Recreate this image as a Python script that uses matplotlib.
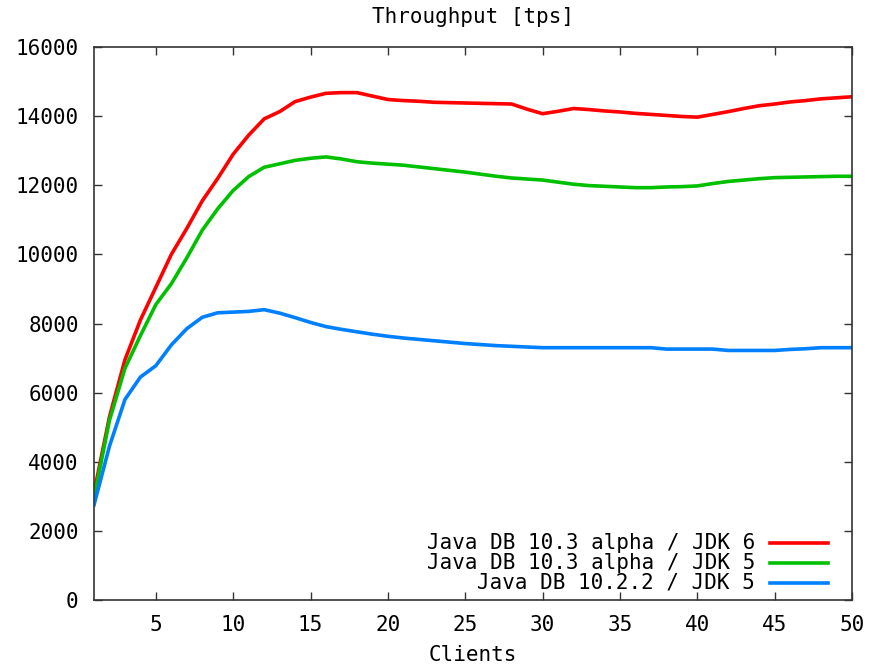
import matplotlib
matplotlib.use("Agg")
import matplotlib.pyplot as plt

clients = list(range(1, 51))

jdb103_jdk6 = [3100, 5300, 6950, 8100, 9050, 10000, 10750, 11550, 12200, 12900,
               13450, 13920, 14130, 14420, 14550, 14660, 14680, 14680, 14580, 14480,
               14450, 14430, 14400, 14390, 14380, 14370, 14360, 14350, 14200, 14070,
               14140, 14220, 14190, 14150, 14120, 14080, 14050, 14020, 13990, 13970,
               14050, 14130, 14220, 14300, 14350, 14410, 14450, 14500, 14530, 14560]

jdb103_jdk5 = [2950, 5200, 6700, 7650, 8550, 9150, 9900, 10700, 11320, 11850,
               12250, 12520, 12620, 12720, 12780, 12820, 12760, 12680, 12640, 12610,
               12580, 12530, 12480, 12430, 12380, 12320, 12260, 12210, 12180, 12150,
               12090, 12030, 11990, 11970, 11950, 11930, 11930, 11950, 11960, 11980,
               12050, 12110, 12150, 12190, 12220, 12230, 12240, 12250, 12260, 12260]

jdb1022_jdk5 = [2750, 4450, 5800, 6450, 6780, 7380, 7850, 8180, 8310, 8330,
                8350, 8400, 8300, 8170, 8030, 7910, 7830, 7760, 7690, 7630,
                7580, 7540, 7500, 7460, 7420, 7390, 7360, 7340, 7320, 7300,
                7300, 7300, 7300, 7300, 7300, 7300, 7300, 7260, 7260, 7260,
                7260, 7220, 7220, 7220, 7220, 7250, 7270, 7300, 7300, 7300]

labels = ["Java DB 10.3 alpha / JDK 6", "Java DB 10.3 alpha / JDK 5", "Java DB 10.2.2 / JDK 5"]
colors = ["#ff0000", "#00c000", "#0080ff"]
series = [jdb103_jdk6, jdb103_jdk5, jdb1022_jdk5]

x_ticks = [5, 10, 15, 20, 25, 30, 35, 40, 45, 50]
y_ticks = [0, 2000, 4000, 6000, 8000, 10000, 12000, 14000, 16000]

plt.rcParams['font.family'] = ['DejaVu Sans Mono']
FS = 15

fig = plt.figure(figsize=(8.85, 6.64), dpi=100)
ax = fig.add_axes([94/885, 1-600/664, (852-94)/885, (600-47)/664])

for s, c in zip(series, colors):
    ax.plot(clients, s, color=c, lw=2.6, solid_joinstyle='round')

ax.set_xlim(1, 50)
ax.set_ylim(0, 16000)
ax.set_xticks(x_ticks)
ax.set_yticks(y_ticks)
ax.tick_params(direction='in', length=6, width=1, top=True, right=True,
               labelsize=FS, pad=11, color='#333333')
for sp in ax.spines.values():
    sp.set_linewidth(1.2)
    sp.set_color('#333333')

ax.set_title("Throughput [tps]", fontsize=FS, pad=17)
ax.set_xlabel("Clients", fontsize=FS, labelpad=7)

# legend (gnuplot style, right-aligned text, sample after text)
rows = [(600-543)/553, (600-563)/553, (600-583)/553]
x_text = (755-94)/758
x0, x1 = (770-94)/758, (828-94)/758
for lab, c, yy in zip(labels, colors, rows):
    ax.text(x_text, yy, lab, transform=ax.transAxes, ha='right', va='center', fontsize=FS)
    ax.plot([x0, x1], [yy, yy], transform=ax.transAxes, color=c, lw=2.6)

fig.savefig("out.png", dpi=100)
